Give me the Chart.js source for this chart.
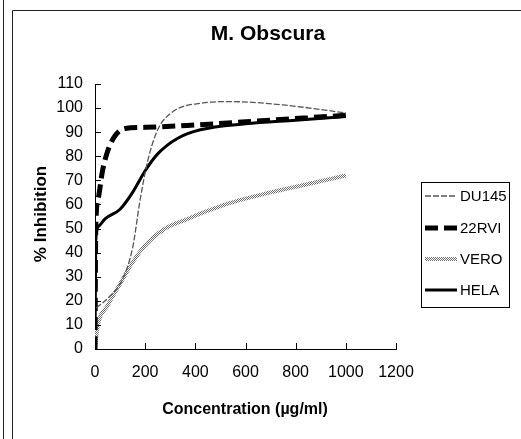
<!DOCTYPE html>
<html>
<head>
<meta charset="utf-8">
<script src="https://cdn.jsdelivr.net/npm/chart.js@4.4.0/dist/chart.umd.min.js"></script>
<style>
  body { margin: 0; background: #fff; }
  #wrap { width: 521px; height: 439px; position: relative; }
</style>
</head>
<body>
<div id="wrap"><canvas id="chart"></canvas></div>
<script>
const chartTitle = "M. Obscura";
const xTitle = "Concentration (µg/ml)";
const yTitle = "% Inhibition";
const seriesNames = ["DU145", "22RVI", "VERO", "HELA"];

// values (concentration, % inhibition)
const du145Conc = [5, 60, 110, 150, 180, 210, 250, 310, 420, 540, 750, 1000];
const du145Inhib = [17, 22, 29, 42, 62, 78, 91, 98.5, 102, 102.7, 101.3, 98];

const rviConc = [0, 3, 12, 30, 50, 80, 120, 200, 400, 700, 1000];
const rviInhib = [0, 50, 62, 74, 82, 88.5, 91.5, 92, 93, 95, 97];

const veroConc = [0, 10, 50, 100, 150, 200, 280, 370, 440, 550, 700, 850, 1000];
const veroInhib = [0, 9, 18, 27, 36, 43, 50, 54, 57, 61, 65, 68.5, 72];

const helaConc = [0, 3, 15, 40, 100, 150, 200, 250, 330, 420, 600, 800, 1000];
const helaInhib = [0, 45, 51, 54, 58, 65, 74, 81, 87.5, 91, 93.5, 95, 96.5];

const xMax = 1200, xStep = 200;
const yMax = 110, yStep = 10;

const font = "'Liberation Sans', Arial, sans-serif";

function toPoints(xs, ys) {
  return xs.map((x, i) => ({ x: x, y: ys[i] }));
}

// checkered grey fill used for the VERO line
function dotPattern() {
  const c = document.createElement("canvas");
  c.width = 2; c.height = 2;
  const g = c.getContext("2d");
  g.fillStyle = "#fff";
  g.fillRect(0, 0, 2, 2);
  g.fillStyle = "#6e6e6e";
  g.fillRect(0, 0, 1, 1);
  g.fillRect(1, 1, 1, 1);
  return g.createPattern(c, "repeat");
}

const decor = {
  id: "decor",
  beforeDraw(chart) {
    const ctx = chart.ctx;
    ctx.save();
    ctx.fillStyle = "#fff";
    ctx.fillRect(0, 0, chart.width, chart.height);
    ctx.strokeStyle = "#222";
    ctx.lineWidth = 1;
    ctx.beginPath();
    ctx.moveTo(3.5, 0); ctx.lineTo(3.5, chart.height);
    ctx.moveTo(12.5, chart.height); ctx.lineTo(12.5, 10.5); ctx.lineTo(chart.width, 10.5);
    ctx.stroke();
    ctx.restore();
  },
  afterDraw(chart) {
    const ctx = chart.ctx;
    const xs = chart.scales.x, ys = chart.scales.y;
    const area = chart.chartArea;
    ctx.save();
    // inside tick marks
    ctx.strokeStyle = "#000";
    ctx.lineWidth = 1;
    ctx.beginPath();
    xs.ticks.forEach((t) => {
      const px = Math.round(xs.getPixelForValue(t.value)) + 0.5;
      ctx.moveTo(px, area.bottom); ctx.lineTo(px, area.bottom - 6);
    });
    ys.ticks.forEach((t) => {
      const py = Math.round(ys.getPixelForValue(t.value)) + 0.5;
      ctx.moveTo(area.left, py); ctx.lineTo(area.left + 6, py);
    });
    ctx.stroke();

    // titles
    ctx.fillStyle = "#000";
    ctx.textAlign = "center";
    ctx.textBaseline = "alphabetic";
    ctx.font = "bold 21px " + font;
    ctx.fillText(chartTitle, 268, 40);
    ctx.font = "bold 16px " + font;
    ctx.fillText(xTitle, 245, 414);
    ctx.save();
    ctx.translate(46, 214);
    ctx.rotate(-Math.PI / 2);
    ctx.font = "bold 17px " + font;
    ctx.fillText(yTitle, 0, 0);
    ctx.restore();

    // legend box
    const lx = 421, ly = 182, lw = 88, lh = 125;
    ctx.strokeStyle = "#000";
    ctx.strokeRect(lx + 0.5, ly + 0.5, lw, lh);
    const rows = [196, 228, 259, 290];
    ctx.textAlign = "left";
    ctx.textBaseline = "middle";
    ctx.font = "15px " + font;
    chart.data.datasets.forEach((ds, i) => {
      const y = rows[i];
      ctx.save();
      ctx.strokeStyle = ds.borderColor;
      ctx.lineWidth = ds.borderWidth;
      ctx.setLineDash(ds.borderDash || []);
      ctx.beginPath();
      ctx.moveTo(425, y); ctx.lineTo(457, y);
      ctx.stroke();
      ctx.restore();
      ctx.fillText(ds.label, 460, y + 1);
    });
    ctx.restore();
  }
};

new Chart(document.getElementById("chart"), {
  type: "scatter",
  data: {
    datasets: [
      {
        label: seriesNames[0],
        data: toPoints(du145Conc, du145Inhib),
        borderColor: "#555",
        borderWidth: 1.3,
        borderDash: [6, 2],
      },
      {
        label: seriesNames[1],
        data: toPoints(rviConc, rviInhib),
        borderColor: "#000",
        borderWidth: 5,
        borderDash: [13, 6],
      },
      {
        label: seriesNames[2],
        data: toPoints(veroConc, veroInhib),
        borderColor: dotPattern(),
        borderWidth: 4,
      },
      {
        label: seriesNames[3],
        data: toPoints(helaConc, helaInhib),
        borderColor: "#000",
        borderWidth: 3,
      },
    ],
  },
  options: {
    responsive: true,
    maintainAspectRatio: false,
    animation: false,
    datasets: {
      scatter: { showLine: true, pointRadius: 0, cubicInterpolationMode: "monotone" },
    },
    layout: { padding: { left: 0, top: 84, right: 125, bottom: 40 } },
    plugins: {
      legend: { display: false },
      tooltip: { enabled: false },
    },
    scales: {
      x: {
        type: "linear",
        min: 0,
        max: xMax,
        afterFit: (s) => { s.height = 50; },
        ticks: {
          stepSize: xStep, autoSkip: false, color: "#000", padding: 14, maxRotation: 0,
          font: { family: font, size: 16 },
          callback: (v) => String(v),
        },
        grid: { display: false, drawTicks: false },
        border: { display: true, color: "#000", width: 1 },
      },
      y: {
        type: "linear",
        min: 0,
        max: yMax,
        afterFit: (s) => { s.width = 95; },
        ticks: {
          stepSize: yStep, autoSkip: false, color: "#000", padding: 12,
          font: { family: font, size: 16 },
          callback: (v) => String(v),
        },
        grid: { display: false, drawTicks: false },
        border: { display: true, color: "#000", width: 1 },
      },
    },
  },
  plugins: [decor],
});
</script>
</body>
</html>
